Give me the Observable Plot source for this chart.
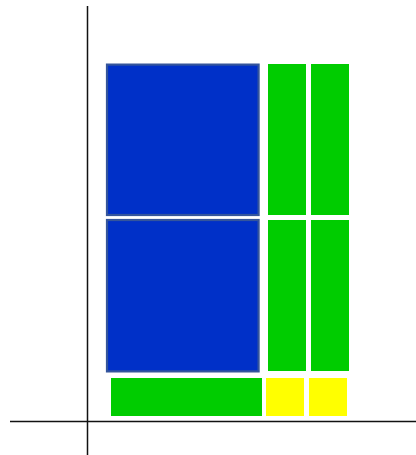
<!DOCTYPE html>
<html>
<head>
<meta charset="utf-8">
<script src="https://cdn.jsdelivr.net/npm/d3@7"></script>
<script src="https://cdn.jsdelivr.net/npm/@observablehq/plot@0.6"></script>
<style>
html,body{margin:0;padding:0;background:#fff;}
#chart svg{display:block;}
</style>
</head>
<body>
<div id="chart"></div>
<script>
// Tile categories and extents (data units; origin at the axis crossing)
const kinds  = ["big", "mid", "mid", "big", "mid", "mid", "mid", "small", "small"];
const xStart = [0.50, 4.525, 5.60, 0.50, 4.525, 5.60, 0.60, 4.475, 5.55];
const xEnd   = [4.29, 5.475, 6.55, 4.29, 5.475, 6.55, 4.375, 5.425, 6.50];
const yStart = [5.15, 5.15, 5.15, 1.24, 1.25, 1.25, 0.125, 0.125, 0.125];
const yEnd   = [8.91, 8.925, 8.925, 5.025, 5.025, 5.025, 1.075, 1.075, 1.075];

const tiles = kinds.map((k, i) => ({k, x1: xStart[i], x2: xEnd[i], y1: yStart[i], y2: yEnd[i]}));
const bigTiles = tiles.filter(d => d.k === "big");
const otherTiles = tiles.filter(d => d.k !== "big");

const chart = Plot.plot({
  width: 416,
  height: 455,
  margin: 0,
  x: {domain: [-2.175, 8.225], axis: null},
  y: {domain: [-0.85, 10.525], axis: null},
  color: {domain: ["big", "mid", "small"], range: ["#0030c8", "#00cc00", "#ffff00"]},
  marks: [
    Plot.rect(otherTiles, {x1: "x1", x2: "x2", y1: "y1", y2: "y2", fill: "k"}),
    Plot.rect(bigTiles, {x1: "x1", x2: "x2", y1: "y1", y2: "y2", fill: "k", stroke: "#34559c", strokeWidth: 2.2}),
    Plot.ruleX([0], {y1: -0.85, y2: 10.375, stroke: "#111", strokeWidth: 1.5}),
    Plot.ruleY([0], {x1: -1.925, x2: 8.225, stroke: "#111", strokeWidth: 1.5})
  ]
});
document.getElementById("chart").appendChild(chart);
</script>
</body>
</html>
